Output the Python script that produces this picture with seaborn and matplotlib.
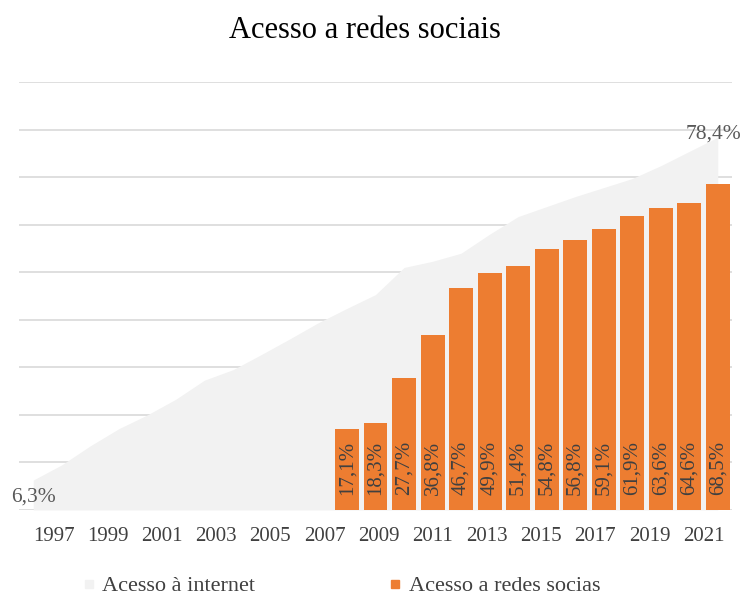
import matplotlib
matplotlib.use("Agg")
import matplotlib.pyplot as plt
import seaborn as sns
import pandas as pd
import numpy as np
from matplotlib.lines import Line2D

years = list(range(1997, 2022))
internet = [6.3, 9.5, 13.5, 17.1, 20.0, 23.3, 27.3, 29.5, 32.7, 36.0, 39.4, 42.4,
            45.3, 51.0, 52.3, 54.0, 58.0, 61.7, 63.8, 65.9, 67.8, 69.7, 72.4, 75.4, 78.4]
social_years = list(range(2008, 2022))
social = [17.1, 18.3, 27.7, 36.8, 46.7, 49.9, 51.4, 54.8, 56.8, 59.1, 61.9, 63.6, 64.6, 68.5]
tick_labels = [str(y) for y in years[::2]]

ORANGE = "#ED7D31"
AREA = "#F2F2F2"
GRID = "#D9D9D9"
TXT = "#595959"
DARK = "#404040"

sns.set_theme(style="white")
plt.rcParams["font.family"] = ["Liberation Serif", "DejaVu Serif"]

fig = plt.figure(figsize=(7.43, 5.95), dpi=100)
ax = fig.add_axes([19/743, 1 - 510/595, (732 - 19)/743, (510 - 82)/595])

order = [str(y) for y in years]
pos = np.arange(len(years))

# area (internet access)
ax.fill_between(pos, 0, internet, color=AREA, lw=0, zorder=1)

# bars (social networks)
df = pd.DataFrame({"ano": [str(y) for y in social_years], "valor": social})
sns.barplot(data=df, x="ano", y="valor", order=order, color=ORANGE, width=0.84,
            saturation=1, ax=ax, zorder=3, edgecolor="none")

for yv in np.arange(0, 100, 10):
    ax.axhline(yv, color=GRID, lw=1.2, zorder=0)

ax.set_ylim(0, 90)
ax.set_xlim(-0.5, len(years) - 0.5)
ax.set_yticks([])
ax.set_xticks([])
ax.set_xlabel("")
ax.set_ylabel("")
for s in ax.spines.values():
    s.set_visible(False)

# category labels (Excel draws them slightly compressed)
axl = ax.twiny()
axl.set_xlim(-1.273, 25.04)
axl.xaxis.set_ticks_position("bottom")
axl.set_xticks(pos[::2])
axl.set_xticklabels(tick_labels, fontsize=15, color=DARK)
axl.tick_params(axis="x", length=0, pad=12, top=False, labeltop=False,
                bottom=True, labelbottom=True)
for s in axl.spines.values():
    s.set_visible(False)

# bar labels
for yr, v in zip(social_years, social):
    i = years.index(yr)
    ax.annotate(f"{v:.1f}%".replace(".", ","), xy=(i, 0), xytext=(0, 11),
                textcoords="offset points", rotation=90, ha="center", va="bottom",
                fontsize=15, color=DARK, zorder=5)

# area end labels
ax.annotate(f"{internet[0]:.1f}%".replace(".", ","), xy=(0, internet[0]), xytext=(0, -12),
            textcoords="offset points", ha="center", va="center", fontsize=15.5, color=TXT, zorder=5)
ax.annotate(f"{internet[-1]:.1f}%".replace(".", ","), xy=(len(years) - 1, internet[-1]), xytext=(-3, 2),
            textcoords="offset points", ha="center", va="center", fontsize=15.5, color=TXT, zorder=5)

fig.text(0.491, 1 - 31/595, "Acesso a redes sociais", ha="center", va="center",
         fontsize=22, color="#000000")

handles = [Line2D([], [], marker="s", ls="none", color=AREA, markersize=5.5),
           Line2D([], [], marker="s", ls="none", color=ORANGE, markersize=5.5)]
fig.legend(handles, ["Acesso à internet", "Acesso a redes socias"], loc="center",
           bbox_to_anchor=(0.458, 1 - 586/595), ncol=2, frameon=False, fontsize=16,
           handletextpad=0.2, columnspacing=5.9, handlelength=0.8,
           labelcolor=DARK)

fig.savefig("out.png", dpi=100)
